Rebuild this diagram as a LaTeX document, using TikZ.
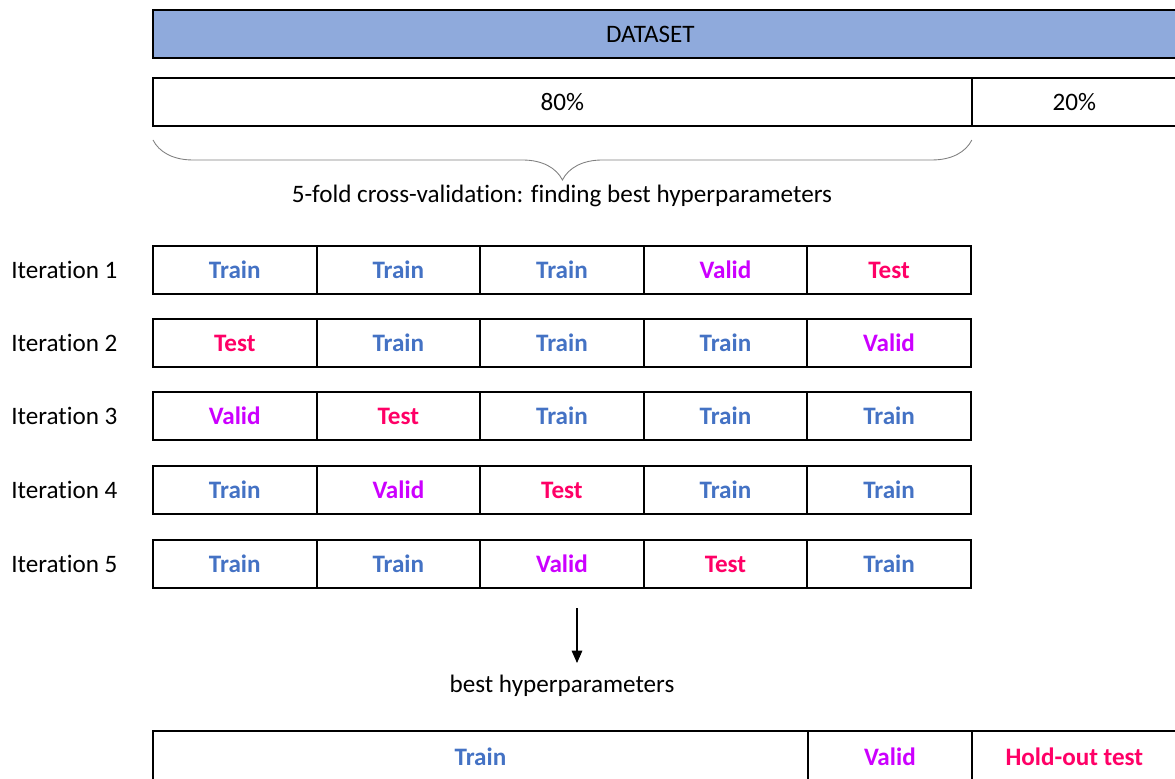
\documentclass[tikz,border=0pt]{standalone}
\usepackage{fontspec}
\setmainfont{Carlito}[Ligatures=CommonOff]
\usetikzlibrary{arrows.meta}
\usetikzlibrary{positioning}
\usetikzlibrary{decorations.pathreplacing}

\definecolor{setblue}{HTML}{8FAADC}
\definecolor{trainc}{HTML}{4472C4}
\definecolor{validc}{HTML}{CC00FF}
\definecolor{testc}{HTML}{FF0066}

\newcommand{\figfont}{\fontsize{14.3}{17}\selectfont}

\tikzset{
	box/.style={draw, line width=1.1pt, inner sep=0pt, outer sep=0pt, minimum height=0.96cm},
	fold/.style={box, minimum width=3.272cm, font=\figfont\bfseries},
	Train/.style={fold, text=trainc},
	Valid/.style={fold, text=validc},
	Test/.style={fold, text=testc},
	iterlab/.style={anchor=west, inner sep=0pt},
}

\begin{document}
\begin{tikzpicture}[x=0.02cm, y=-0.02cm, font=\figfont]
	\useasboundingbox (0,0) rectangle (1175,778);
	\clip (0,0) rectangle (1175,778);

	% whole data set and split
	\node[box, fill=setblue, anchor=north west, minimum width=20.5cm] (data) at (153,10) {DATASET\hspace*{0.6cm}};
	\node[box, anchor=north west, minimum width=16.38cm] (p80) at (153,78) {80\%};
	\node[box, right=0pt of p80, minimum width=4.1cm] (p20) {20\%};

	\draw[gray, line width=0.5pt, decorate, decoration={brace, mirror, amplitude=0.8cm}]
	([yshift=-0.28cm]p80.south west) -- ([yshift=-0.28cm]p80.south east);
	\node (cvtext) at (562,196) {5-fold cross-validation: finding best hyperparameters};

	% the five folds
	\foreach \i/\y/\a/\b/\c/\d/\e in {
		1/270/Train/Train/Train/Valid/Test,
		2/343/Test/Train/Train/Train/Valid,
		3/416/Valid/Test/Train/Train/Train,
		4/490/Train/Valid/Test/Train/Train,
		5/564/Train/Train/Valid/Test/Train}{
		\node[iterlab] (it\i) at (11,\y) {Iteration \i};
		\node[\a, anchor=west] (f\i a) at (153,\y) {\a};
		\node[\b, right=0pt of f\i a] (f\i b) {\b};
		\node[\c, right=0pt of f\i b] (f\i c) {\c};
		\node[\d, right=0pt of f\i c] (f\i d) {\d};
		\node[\e, right=0pt of f\i d] (f\i e) {\e};
	}

	\coordinate (arrtop) at (577,608);
	\coordinate (arrbot) at (577,663);
	\draw[line width=0.6pt, -{Triangle[length=7pt, width=6pt]}] (arrtop) -- (arrbot);
	\node (best) at (562,686) {best hyperparameters};

	% final split
	\node[Train, anchor=north west, minimum width=13.1cm, minimum height=1.04cm] (ftrain) at (153,731) {Train};
	\node[Valid, right=0pt of ftrain, minimum width=3.28cm, minimum height=1.04cm] (fvalid) {Valid};
	\node[Test, right=0pt of fvalid, minimum width=4.1cm, minimum height=1.04cm] (fhold) {Hold-out test};
\end{tikzpicture}
\end{document}
